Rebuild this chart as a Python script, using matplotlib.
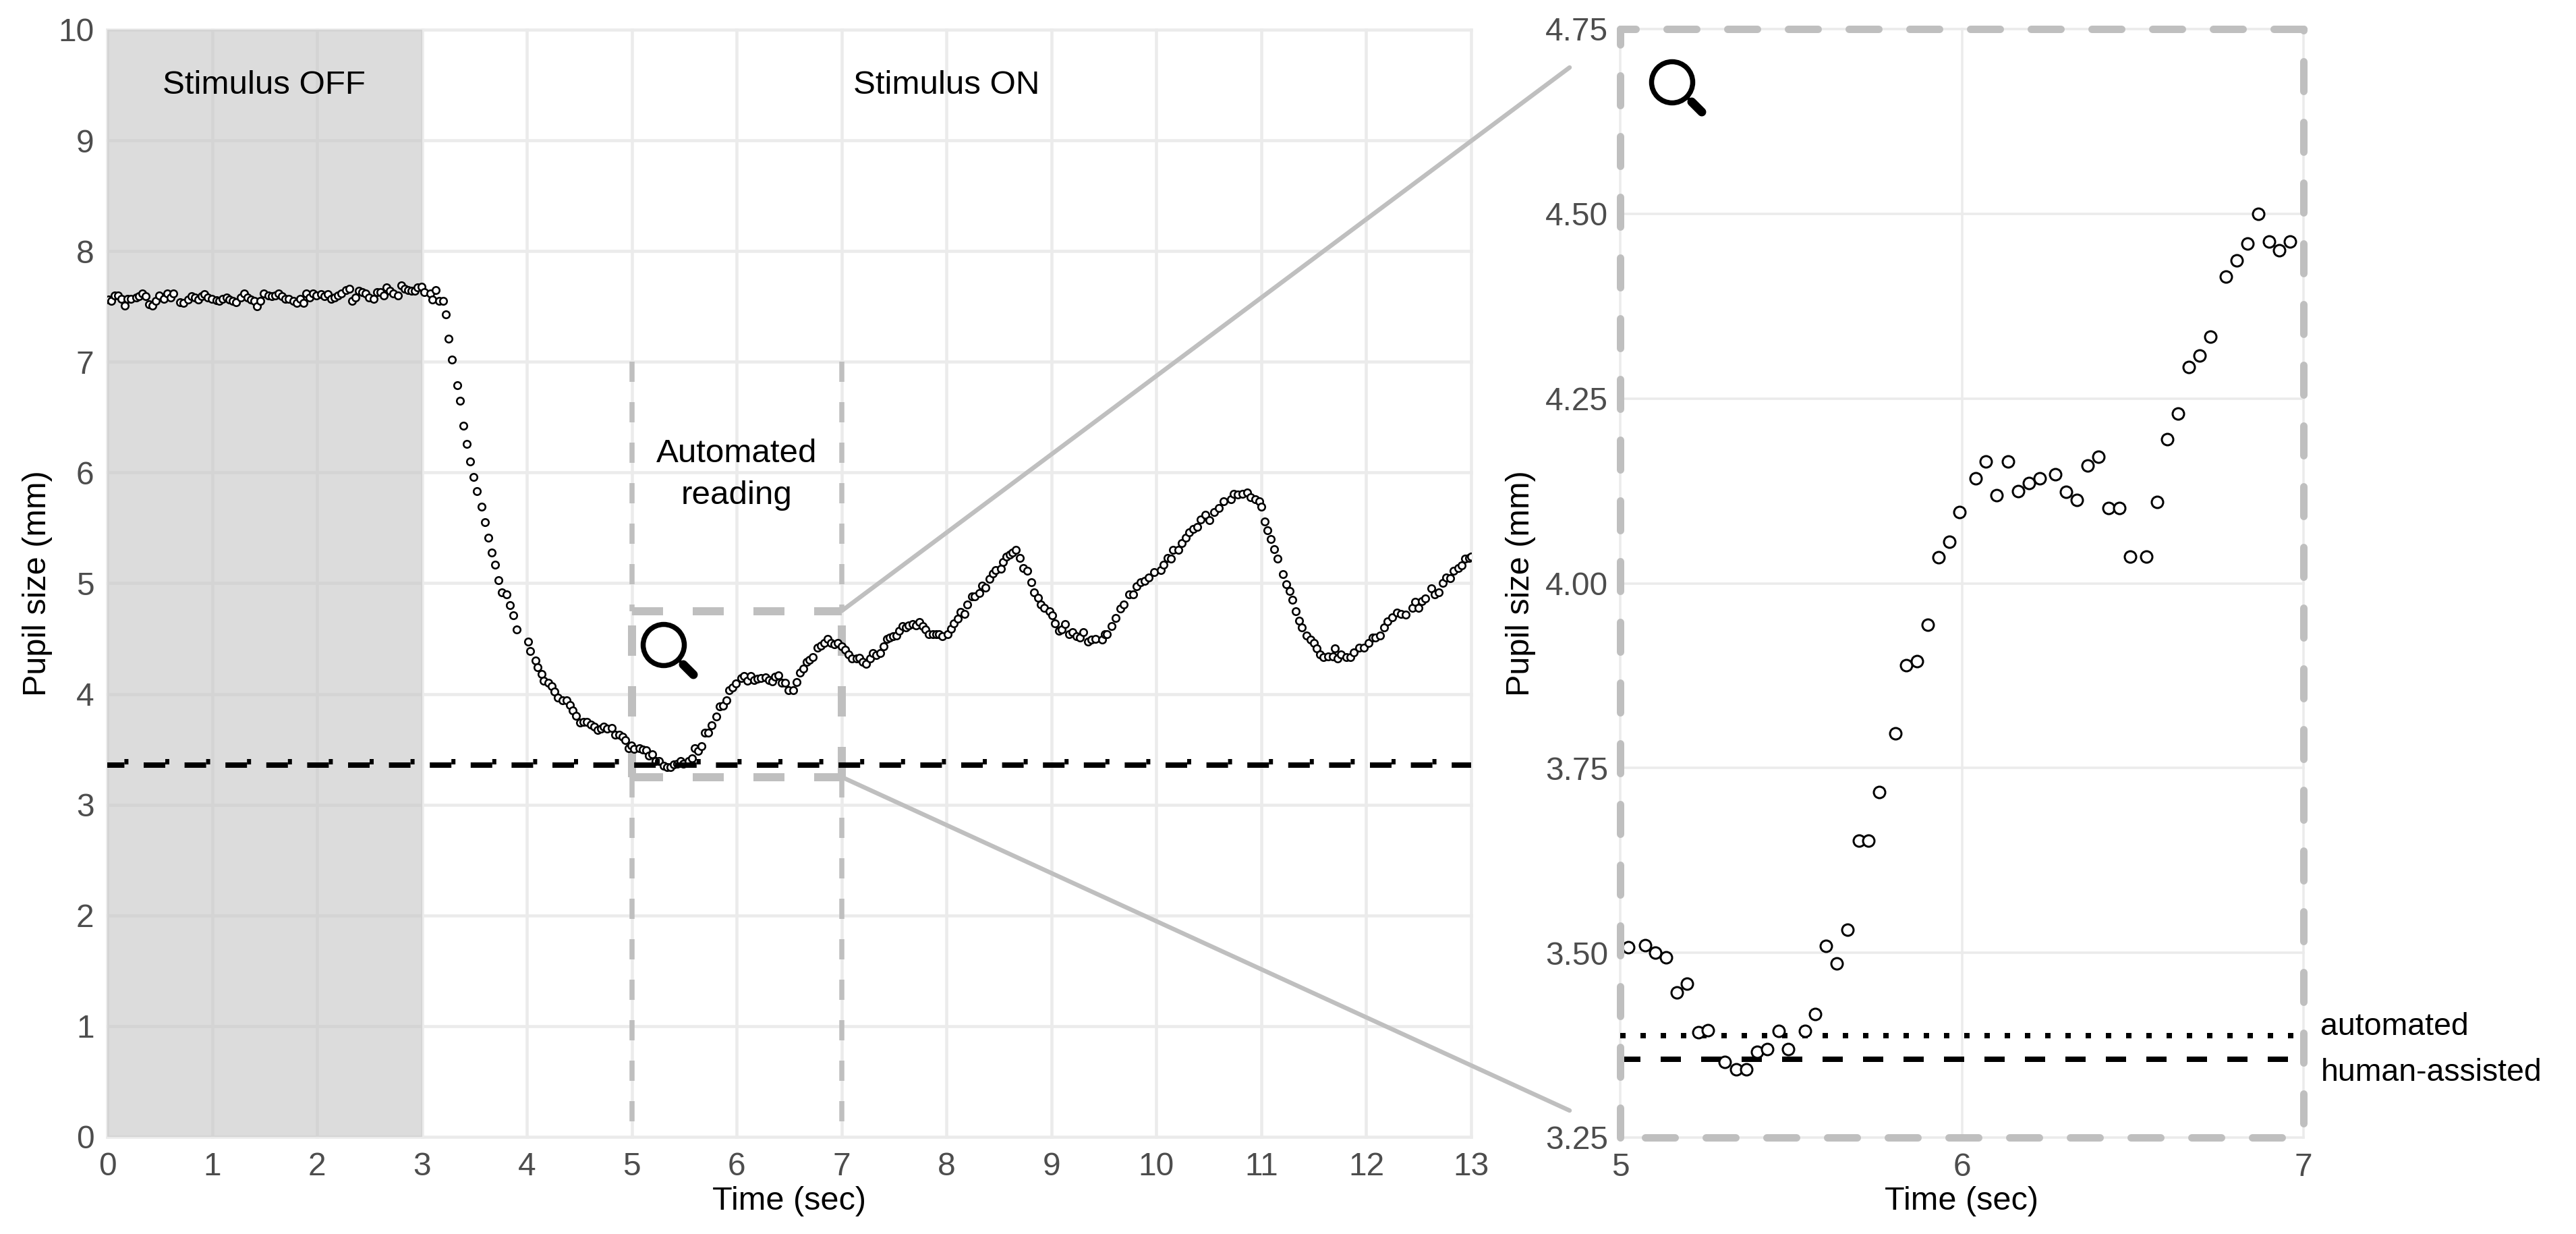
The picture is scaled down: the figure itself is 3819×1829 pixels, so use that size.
import matplotlib
matplotlib.use('Agg')
import matplotlib.pyplot as plt
from matplotlib.lines import Line2D
from matplotlib.patches import Circle, ConnectionPatch
from matplotlib.transforms import IdentityTransform

FIG_W, FIG_H, DPI = 3819, 1829, 100
GREY = '#BFBFBF'
GRID = '#EBEBEB'
TICK = '#4D4D4D'

plt.rcParams['font.family'] = ['Liberation Sans', 'DejaVu Sans']
plt.rcParams['lines.scale_dashes'] = False

# pupil trace before the zoomed window
time_before = [
    0.01, 0.04, 0.07, 0.10, 0.135, 0.165, 0.196, 0.228, 0.274, 0.305, 0.337, 0.368, 0.399, 0.43, 0.461, 0.492,
    0.539, 0.571, 0.602, 0.633, 0.696, 0.727, 0.773, 0.805, 0.836, 0.868, 0.899, 0.929, 0.96, 0.994,
    1.04, 1.07, 1.10, 1.135, 1.165, 1.196, 1.228, 1.27, 1.305, 1.337, 1.368, 1.399, 1.43, 1.46, 1.492,
    1.539, 1.571, 1.602, 1.633, 1.664, 1.696, 1.727, 1.773, 1.805, 1.836, 1.868, 1.899, 1.929, 1.96, 1.994,
    2.04, 2.07, 2.10, 2.135, 2.165, 2.196, 2.228, 2.274, 2.305, 2.337, 2.368, 2.399, 2.43, 2.461, 2.492,
    2.539, 2.571, 2.602, 2.633, 2.664, 2.696, 2.727, 2.773, 2.805, 2.836, 2.868, 2.899, 2.929, 2.96, 2.994,
    3.02, 3.08, 3.10, 3.13, 3.16, 3.20, 3.226, 3.256, 3.287, 3.334, 3.362, 3.397, 3.429, 3.461, 3.491, 3.524,
    3.569, 3.599, 3.631, 3.664, 3.696, 3.728, 3.759, 3.806, 3.836, 3.869, 3.90,
    4.01, 4.03, 4.08, 4.10, 4.14, 4.16, 4.205, 4.24, 4.26, 4.295, 4.34, 4.376, 4.41, 4.436, 4.466, 4.504,
    4.536, 4.57, 4.61, 4.643, 4.675, 4.707, 4.733, 4.765, 4.81, 4.84, 4.878, 4.91, 4.94, 4.97, 4.996,
]
pupil_before = [
    7.56, 7.55, 7.60, 7.60, 7.57, 7.51, 7.57, 7.57, 7.58, 7.59, 7.62, 7.59, 7.52, 7.51, 7.55, 7.60,
    7.57, 7.62, 7.58, 7.62, 7.54, 7.53, 7.56, 7.59, 7.58, 7.56, 7.59, 7.61, 7.58, 7.57,
    7.555, 7.55, 7.57, 7.58, 7.56, 7.55, 7.54, 7.58, 7.62, 7.58, 7.56, 7.55, 7.50, 7.55, 7.62,
    7.60, 7.59, 7.60, 7.62, 7.59, 7.57, 7.57, 7.55, 7.53, 7.57, 7.53, 7.62, 7.58, 7.62, 7.60,
    7.61, 7.59, 7.61, 7.57, 7.58, 7.60, 7.62, 7.65, 7.66, 7.55, 7.58, 7.64, 7.63, 7.62, 7.58,
    7.57, 7.63, 7.63, 7.60, 7.67, 7.64, 7.62, 7.60, 7.69, 7.66, 7.65, 7.64, 7.64, 7.67, 7.68,
    7.63, 7.62, 7.56, 7.65, 7.55, 7.55, 7.43, 7.21, 7.02, 6.79, 6.65, 6.42, 6.26, 6.10, 5.96, 5.83,
    5.69, 5.55, 5.41, 5.28, 5.17, 5.03, 4.92, 4.90, 4.80, 4.71, 4.58,
    4.47, 4.39, 4.30, 4.24, 4.18, 4.12, 4.10, 4.07, 4.02, 3.97, 3.94, 3.94, 3.90, 3.85, 3.80, 3.74,
    3.745, 3.745, 3.725, 3.705, 3.675, 3.685, 3.705, 3.685, 3.69, 3.634, 3.634, 3.614, 3.583, 3.51, 3.533,
]

# zoomed window, 5 to 7 s
time_zoom = [
    5.024, 5.073, 5.102, 5.135, 5.165, 5.196, 5.229, 5.257, 5.306, 5.339, 5.369, 5.400, 5.431, 5.463, 5.492,
    5.541, 5.571, 5.602, 5.633, 5.665, 5.698, 5.727, 5.759, 5.806, 5.838, 5.869, 5.900, 5.931, 5.963, 5.994,
    6.041, 6.071, 6.102, 6.135, 6.165, 6.196, 6.228, 6.274, 6.305, 6.337, 6.368, 6.399, 6.430, 6.461, 6.492,
    6.539, 6.571, 6.602, 6.633, 6.664, 6.696, 6.727, 6.773, 6.805, 6.836, 6.868, 6.899, 6.929, 6.960,
]
pupil_zoom = [
    3.507, 3.510, 3.500, 3.494, 3.446, 3.458, 3.392, 3.395, 3.352, 3.342, 3.342, 3.366, 3.370, 3.394, 3.370,
    3.394, 3.417, 3.509, 3.486, 3.531, 3.652, 3.652, 3.717, 3.797, 3.889, 3.895, 3.944, 4.035, 4.056, 4.096,
    4.142, 4.165, 4.119, 4.165, 4.125, 4.136, 4.142, 4.147, 4.124, 4.113, 4.159, 4.171, 4.102, 4.102, 4.036,
    4.036, 4.110, 4.195, 4.230, 4.293, 4.308, 4.334, 4.415, 4.437, 4.460, 4.500, 4.462, 4.451, 4.462,
]

# pupil trace after the zoomed window
time_after = [
    7.0, 7.036, 7.064, 7.10, 7.14, 7.17, 7.20, 7.23, 7.27, 7.30, 7.33, 7.37, 7.40, 7.43, 7.46, 7.49, 7.525, 7.546,
    7.58, 7.61, 7.64, 7.675, 7.71, 7.74, 7.77, 7.80, 7.83, 7.87, 7.90, 7.93, 7.96,
    8.01, 8.04, 8.07, 8.11, 8.13, 8.17, 8.20, 8.24, 8.27, 8.31, 8.34, 8.37, 8.41, 8.44, 8.47, 8.52, 8.54, 8.57,
    8.60, 8.63, 8.66, 8.70, 8.73, 8.77, 8.805, 8.835, 8.87, 8.895, 8.93, 8.98,
    9.01, 9.03, 9.07, 9.10, 9.13, 9.165, 9.20, 9.24, 9.27, 9.30, 9.345, 9.38, 9.42, 9.48, 9.51, 9.53, 9.57, 9.61,
    9.656, 9.69, 9.74, 9.78, 9.81, 9.85, 9.89, 9.93, 9.98,
    10.04, 10.07, 10.11, 10.14, 10.16, 10.21, 10.24, 10.28, 10.31, 10.35, 10.39, 10.42, 10.47, 10.505, 10.55,
    10.595, 10.64, 10.71, 10.74, 10.775, 10.82, 10.865, 10.90, 10.94, 10.98,
    11.0, 11.03, 11.06, 11.09, 11.125, 11.157, 11.207, 11.236, 11.27, 11.297, 11.33, 11.36, 11.387, 11.434, 11.467,
    11.505, 11.53, 11.56, 11.595, 11.64, 11.68, 11.70, 11.73, 11.76, 11.81, 11.85, 11.88, 11.93, 11.975,
    12.02, 12.06, 12.09, 12.13, 12.17, 12.20, 12.25, 12.29, 12.33, 12.375, 12.44, 12.465, 12.50, 12.53, 12.56,
    12.62, 12.65, 12.69, 12.73, 12.76, 12.80, 12.83, 12.88, 12.91, 12.94, 12.98, 13.0,
]
pupil_after = [
    4.43, 4.40, 4.36, 4.32, 4.32, 4.325, 4.29, 4.27, 4.32, 4.37, 4.35, 4.37, 4.43, 4.50, 4.51, 4.52, 4.53, 4.57,
    4.61, 4.60, 4.62, 4.63, 4.62, 4.65, 4.61, 4.58, 4.54, 4.54, 4.54, 4.54, 4.52,
    4.54, 4.59, 4.64, 4.68, 4.74, 4.72, 4.81, 4.88, 4.88, 4.91, 4.98, 4.96, 5.04, 5.09, 5.12, 5.13, 5.19, 5.24,
    5.26, 5.28, 5.30, 5.23, 5.14, 5.11, 5.01, 4.915, 4.87, 4.81, 4.78, 4.75,
    4.71, 4.64, 4.57, 4.58, 4.63, 4.54, 4.56, 4.52, 4.51, 4.56, 4.47, 4.49, 4.50, 4.49, 4.54, 4.54, 4.61, 4.685,
    4.77, 4.81, 4.90, 4.90, 4.97, 5.01, 5.02, 5.05, 5.10,
    5.12, 5.17, 5.23, 5.22, 5.30, 5.30, 5.36, 5.41, 5.46, 5.49, 5.51, 5.575, 5.62, 5.57, 5.64,
    5.68, 5.74, 5.76, 5.81, 5.80, 5.81, 5.82, 5.78, 5.76, 5.74,
    5.69, 5.555, 5.48, 5.40, 5.305, 5.22, 5.085, 4.99, 4.93, 4.85, 4.75, 4.66, 4.60, 4.53, 4.49,
    4.46, 4.41, 4.36, 4.33, 4.34, 4.34, 4.41, 4.32, 4.36, 4.33, 4.33, 4.375, 4.42, 4.42,
    4.46, 4.51, 4.51, 4.53, 4.60, 4.655, 4.695, 4.735, 4.725, 4.715, 4.775, 4.83, 4.78, 4.84, 4.86,
    4.955, 4.90, 4.92, 5.0, 5.05, 5.045, 5.11, 5.14, 5.16, 5.22, 5.23, 5.24,
]

AUTOMATED = 3.388
HUMAN = 3.356
left_xticks = list(range(0, 14))
left_yticks = list(range(0, 11))
right_xticks = [5, 6, 7]
right_yticks = [3.25, 3.50, 3.75, 4.00, 4.25, 4.50, 4.75]


def pt(px):
    return px * 72 / DPI


def axes_rect(x0, x1, top, bottom):
    return [x0 / FIG_W, 1 - bottom / FIG_H, (x1 - x0) / FIG_W, (bottom - top) / FIG_H]


def dash(on, off, offset=0):
    return (pt(offset), (pt(on), pt(off)))


def magnifier(cx, cy):
    cy = FIG_H - cy
    fig.add_artist(Circle((cx, cy), 30.5, fill=False, ec='black', lw=pt(7.5),
                          transform=IdentityTransform(), zorder=6))
    fig.add_artist(Line2D([cx + 22, cx + 30], [cy - 22, cy - 30], color='black', lw=pt(5),
                          transform=IdentityTransform(), zorder=6))
    fig.add_artist(Line2D([cx + 29, cx + 44], [cy - 29, cy - 44], color='black', lw=pt(13),
                          solid_capstyle='round', transform=IdentityTransform(), zorder=6))


fig = plt.figure(figsize=(FIG_W / DPI, FIG_H / DPI), dpi=DPI)
ax1 = fig.add_axes(axes_rect(159, 2181, 44, 1685))
ax2 = fig.add_axes(axes_rect(2402, 3415, 43, 1686))

for ax in (ax1, ax2):
    for s in ax.spines.values():
        s.set_visible(False)
    ax.set_axisbelow(True)

# left panel
ax1.set_xlim(0, 13)
ax1.set_ylim(0, 10)
ax1.set_xticks(left_xticks)
ax1.set_yticks(left_yticks)
ax1.grid(True, color=GRID, lw=pt(4.5), clip_on=False)
ax1.tick_params(length=0, labelsize=34.5, labelcolor=TICK)
ax1.tick_params(axis='x', pad=16)
ax1.tick_params(axis='y', pad=14)
ax1.axvspan(0, 3, color='#C5C5C5', alpha=0.6, lw=0, zorder=1)

# automated reading window
for t in (5, 7):
    ax1.plot([t, t], [7, 4.75], color=GREY, lw=pt(7.5), ls=dash(30, 30), zorder=2)
    ax1.plot([t, t], [3.25, 0], color=GREY, lw=pt(7.5), ls=dash(30, 30), zorder=2)
    ax1.plot([t, t], [3.25, 4.75], color=GREY, lw=pt(12), ls=dash(45, 45), zorder=2)
for y in (3.25, 4.75):
    ax1.plot([5, 7], [y, y], color=GREY, lw=pt(12), ls=dash(46, 44), zorder=2)

ax1.plot(time_before + time_zoom + time_after, pupil_before + pupil_zoom + pupil_after, ls='none',
         marker='o', ms=pt(10.5), mfc='white', mec='black', mew=pt(2.6), zorder=3)
ax1.plot([0, 13], [HUMAN, HUMAN], color='black', lw=pt(8), ls=dash(32, 28.6, 6.6), zorder=4)
# the dot sits on the end of each dash, so the two lines read as one notched dash
ax1.plot([0, 13], [AUTOMATED, AUTOMATED], color='black', lw=pt(8), ls=dash(6, 54.6, 35.2), zorder=4)

ax1.text(1.495, 9.5, 'Stimulus OFF', ha='center', va='center', fontsize=35.5, color='black')
ax1.text(8.0, 9.5, 'Stimulus ON', ha='center', va='center', fontsize=35.5, color='black')
ax1.text(6, 5.98, 'Automated\nreading', ha='center', va='center', fontsize=35.5, color='black', linespacing=1.5)
ax1.set_xlabel('Time (sec)', fontsize=35)
ax1.set_ylabel('Pupil size (mm)', fontsize=35)
ax1.xaxis.set_label_coords(0.5, -(1758 - 1685) / 1641, transform=ax1.transAxes)
ax1.yaxis.set_label_coords((78 - 159) / 2022, 0.5, transform=ax1.transAxes)

# right panel
ax2.set_xlim(5, 7)
ax2.set_ylim(3.25, 4.75)
ax2.set_xticks(right_xticks)
ax2.set_yticks(right_yticks)
ax2.set_yticklabels(['%.2f' % v for v in right_yticks])
ax2.grid(True, color=GRID, lw=pt(3.5), clip_on=False)
ax2.tick_params(length=0, labelsize=34.5, labelcolor=TICK)
ax2.tick_params(axis='x', pad=16)
ax2.tick_params(axis='y', pad=13)

ax2.plot([5, 6.96], [HUMAN, HUMAN], color='black', lw=pt(8), ls=dash(30, 30), zorder=2)
ax2.plot([5, 6.98], [AUTOMATED, AUTOMATED], color='black', lw=pt(8), ls=dash(8, 22), zorder=2)
ax2.plot(time_zoom, pupil_zoom, ls='none', marker='o', ms=pt(17), mfc='white', mec='black', mew=pt(3), zorder=3)

# dashed frame around the zoom, each side starts where the dash pattern starts
frame = [([7, 5], [4.75, 4.75], 0), ([7, 7], [4.75, 3.25], 42), ([7, 5], [3.25, 3.25], 58), ([5, 5], [3.25, 4.75], 0)]
for xs, ys, off in frame:
    ax2.plot(xs, ys, color=GREY, lw=pt(11), ls=dash(44, 46, off), dash_capstyle='round', clip_on=False, zorder=4)

ax2.text(7.05, 3.40, 'automated', va='center', ha='left', fontsize=33.4, color='black')
ax2.text(7.05, 3.3376, 'human-assisted', va='center', ha='left', fontsize=33.4, color='black')
ax2.set_xlabel('Time (sec)', fontsize=35)
ax2.set_ylabel('Pupil size (mm)', fontsize=35)
ax2.xaxis.set_label_coords(0.5, -(1758 - 1686) / 1643, transform=ax2.transAxes)
ax2.yaxis.set_label_coords((2277 - 2402) / 1013, 0.5, transform=ax2.transAxes)

# connectors from the small box to the zoomed panel
for y, py in ((4.75, 100), (3.25, 1646)):
    fig.add_artist(ConnectionPatch((7, y), (2327 / FIG_W, 1 - py / FIG_H), coordsA=ax1.transData,
                                   coordsB='figure fraction', color=GREY, lw=pt(6.5), zorder=1))

magnifier(984, 956)
magnifier(2479, 122)

fig.savefig('out.png', dpi=DPI)
